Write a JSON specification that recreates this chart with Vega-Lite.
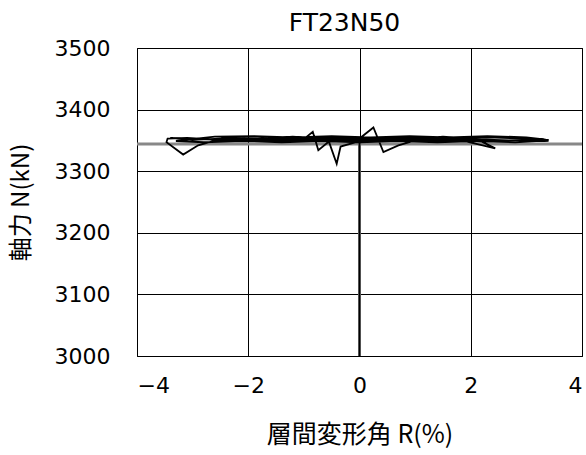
{
  "$schema": "https://vega.github.io/schema/vega-lite/v6.json",
  "width": 445,
  "height": 308,
  "autosize": "none",
  "padding": {"left": 137, "top": 48, "right": 4, "bottom": 99},
  "background": "white",
  "title": {"text": "FT23N50", "font": "DejaVu Sans", "fontSize": 25, "fontWeight": "normal", "color": "black", "offset": 1, "anchor": "middle", "dx": -15},
  "config": {
    "view": {"stroke": "black", "strokeWidth": 1},
    "axis": {
      "domain": false, "ticks": false, "tickSize": 0,
      "grid": true, "gridColor": "black", "gridWidth": 1, "gridOpacity": 1,
      "labelFont": "DejaVu Sans", "labelFontSize": 22, "labelColor": "black",
      "titleFont": "Noto Sans CJK JP", "titleFontSize": 24, "titleFontWeight": "normal", "titleColor": "black"
    }
  },
  "data": {"values": [
    {"s": "ref", "g": "h", "i": 1, "x": -4, "y": 3344},
    {"s": "ref", "g": "h", "i": 2, "x": 4, "y": 3344},
    {"s": "ref", "g": "v", "i": 1, "x": 0, "y": 3000},
    {"s": "ref", "g": "v", "i": 2, "x": 0, "y": 3344},
    {"s": "test", "g": "a", "i": 1, "x": 0, "y": 3000},
    {"s": "test", "g": "a", "i": 2, "x": 0, "y": 3346},
    {"s": "test", "g": "a", "i": 3, "x": 0.25, "y": 3352},
    {"s": "test", "g": "a", "i": 4, "x": 0.5, "y": 3350},
    {"s": "test", "g": "a", "i": 5, "x": 0.25, "y": 3348},
    {"s": "test", "g": "a", "i": 6, "x": 0, "y": 3350},
    {"s": "test", "g": "a", "i": 7, "x": -0.25, "y": 3352},
    {"s": "test", "g": "a", "i": 8, "x": -0.5, "y": 3349},
    {"s": "test", "g": "a", "i": 9, "x": -0.25, "y": 3351},
    {"s": "test", "g": "a", "i": 10, "x": 0, "y": 3353},
    {"s": "test", "g": "a", "i": 11, "x": 0.25, "y": 3371},
    {"s": "test", "g": "a", "i": 12, "x": 0.43, "y": 3331},
    {"s": "test", "g": "a", "i": 13, "x": 0.7, "y": 3342},
    {"s": "test", "g": "a", "i": 14, "x": 1.0, "y": 3350},
    {"s": "test", "g": "a", "i": 15, "x": 0.7, "y": 3354},
    {"s": "test", "g": "a", "i": 16, "x": 0.4, "y": 3352},
    {"s": "test", "g": "a", "i": 17, "x": 0, "y": 3349},
    {"s": "test", "g": "a", "i": 18, "x": -0.34, "y": 3340},
    {"s": "test", "g": "a", "i": 19, "x": -0.41, "y": 3312},
    {"s": "test", "g": "a", "i": 20, "x": -0.55, "y": 3348},
    {"s": "test", "g": "a", "i": 21, "x": -0.74, "y": 3334},
    {"s": "test", "g": "a", "i": 22, "x": -0.84, "y": 3364},
    {"s": "test", "g": "a", "i": 23, "x": -1.0, "y": 3352},
    {"s": "test", "g": "a", "i": 24, "x": -0.7, "y": 3354},
    {"s": "test", "g": "a", "i": 25, "x": -0.3, "y": 3352},
    {"s": "test", "g": "a", "i": 26, "x": 0, "y": 3351},
    {"s": "test", "g": "a", "i": 27, "x": 0.5, "y": 3354},
    {"s": "test", "g": "a", "i": 28, "x": 1.0, "y": 3352},
    {"s": "test", "g": "a", "i": 29, "x": 1.5, "y": 3356},
    {"s": "test", "g": "a", "i": 30, "x": 2.0, "y": 3353},
    {"s": "test", "g": "a", "i": 31, "x": 1.5, "y": 3350},
    {"s": "test", "g": "a", "i": 32, "x": 1.0, "y": 3352},
    {"s": "test", "g": "a", "i": 33, "x": 0.5, "y": 3349},
    {"s": "test", "g": "a", "i": 34, "x": 0, "y": 3352},
    {"s": "test", "g": "a", "i": 35, "x": -0.5, "y": 3355},
    {"s": "test", "g": "a", "i": 36, "x": -1.0, "y": 3351},
    {"s": "test", "g": "a", "i": 37, "x": -1.5, "y": 3355},
    {"s": "test", "g": "a", "i": 38, "x": -2.0, "y": 3352},
    {"s": "test", "g": "a", "i": 39, "x": -1.5, "y": 3349},
    {"s": "test", "g": "a", "i": 40, "x": -1.0, "y": 3351},
    {"s": "test", "g": "a", "i": 41, "x": -0.5, "y": 3353},
    {"s": "test", "g": "a", "i": 42, "x": 0, "y": 3350},
    {"s": "test", "g": "a", "i": 43, "x": 0.6, "y": 3352},
    {"s": "test", "g": "a", "i": 44, "x": 1.2, "y": 3355},
    {"s": "test", "g": "a", "i": 45, "x": 1.8, "y": 3351},
    {"s": "test", "g": "a", "i": 46, "x": 2.44, "y": 3337},
    {"s": "test", "g": "a", "i": 47, "x": 2.2, "y": 3348},
    {"s": "test", "g": "a", "i": 48, "x": 1.6, "y": 3351},
    {"s": "test", "g": "a", "i": 49, "x": 1.0, "y": 3349},
    {"s": "test", "g": "a", "i": 50, "x": 0.4, "y": 3352},
    {"s": "test", "g": "a", "i": 51, "x": 0, "y": 3354},
    {"s": "test", "g": "a", "i": 52, "x": -0.6, "y": 3352},
    {"s": "test", "g": "a", "i": 53, "x": -1.2, "y": 3356},
    {"s": "test", "g": "a", "i": 54, "x": -1.8, "y": 3352},
    {"s": "test", "g": "a", "i": 55, "x": -2.4, "y": 3355},
    {"s": "test", "g": "a", "i": 56, "x": -2.9, "y": 3342},
    {"s": "test", "g": "a", "i": 57, "x": -3.17, "y": 3327},
    {"s": "test", "g": "a", "i": 58, "x": -3.47, "y": 3347},
    {"s": "test", "g": "a", "i": 59, "x": -3.45, "y": 3353},
    {"s": "test", "g": "a", "i": 60, "x": -3.1, "y": 3354},
    {"s": "test", "g": "a", "i": 61, "x": -2.5, "y": 3351},
    {"s": "test", "g": "a", "i": 62, "x": -2.0, "y": 3354},
    {"s": "test", "g": "a", "i": 63, "x": -1.4, "y": 3352},
    {"s": "test", "g": "a", "i": 64, "x": -0.8, "y": 3354},
    {"s": "test", "g": "a", "i": 65, "x": 0, "y": 3351},
    {"s": "test", "g": "a", "i": 66, "x": 0.8, "y": 3354},
    {"s": "test", "g": "a", "i": 67, "x": 1.6, "y": 3352},
    {"s": "test", "g": "a", "i": 68, "x": 2.3, "y": 3355},
    {"s": "test", "g": "a", "i": 69, "x": 2.92, "y": 3353},
    {"s": "test", "g": "a", "i": 70, "x": 3.4, "y": 3349},
    {"s": "test", "g": "a", "i": 71, "x": 3.0, "y": 3351},
    {"s": "test", "g": "a", "i": 72, "x": 2.4, "y": 3349},
    {"s": "test", "g": "a", "i": 73, "x": 1.7, "y": 3352},
    {"s": "test", "g": "a", "i": 74, "x": 1.0, "y": 3350},
    {"s": "test", "g": "a", "i": 75, "x": 0.3, "y": 3353},
    {"s": "test", "g": "a", "i": 76, "x": -0.4, "y": 3351},
    {"s": "test", "g": "a", "i": 77, "x": -1.1, "y": 3353},
    {"s": "test", "g": "a", "i": 78, "x": -1.8, "y": 3350},
    {"s": "test", "g": "a", "i": 79, "x": -2.5, "y": 3353},
    {"s": "test", "g": "a", "i": 80, "x": -3.0, "y": 3351},
    {"s": "test", "g": "a", "i": 81, "x": -3.4, "y": 3354},
    {"s": "test", "g": "a", "i": 82, "x": -2.9, "y": 3352},
    {"s": "test", "g": "a", "i": 83, "x": -2.2, "y": 3350},
    {"s": "test", "g": "a", "i": 84, "x": -1.5, "y": 3353},
    {"s": "test", "g": "a", "i": 85, "x": -0.8, "y": 3351},
    {"s": "test", "g": "a", "i": 86, "x": -0.2, "y": 3349},
    {"s": "test", "g": "a", "i": 87, "x": 0.5, "y": 3352},
    {"s": "test", "g": "a", "i": 88, "x": 1.2, "y": 3350},
    {"s": "test", "g": "a", "i": 89, "x": 2.0, "y": 3352},
    {"s": "test", "g": "a", "i": 90, "x": 2.7, "y": 3350},
    {"s": "test", "g": "a", "i": 91, "x": 3.3, "y": 3352},
    {"s": "test", "g": "a", "i": 92, "x": 3.4, "y": 3350},
    {"s": "test", "g": "a", "i": 93, "x": 2.8, "y": 3347},
    {"s": "test", "g": "a", "i": 94, "x": 2.1, "y": 3349},
    {"s": "test", "g": "a", "i": 95, "x": 1.4, "y": 3347},
    {"s": "test", "g": "a", "i": 96, "x": 0.7, "y": 3349},
    {"s": "test", "g": "a", "i": 97, "x": 0, "y": 3347},
    {"s": "test", "g": "a", "i": 98, "x": -0.7, "y": 3349},
    {"s": "test", "g": "a", "i": 99, "x": -1.4, "y": 3347},
    {"s": "test", "g": "a", "i": 100, "x": -2.1, "y": 3349},
    {"s": "test", "g": "a", "i": 101, "x": -2.8, "y": 3347},
    {"s": "test", "g": "a", "i": 102, "x": -3.3, "y": 3349},
    {"s": "test", "g": "a", "i": 103, "x": -2.6, "y": 3356},
    {"s": "test", "g": "a", "i": 104, "x": -1.9, "y": 3357},
    {"s": "test", "g": "a", "i": 105, "x": -1.2, "y": 3355},
    {"s": "test", "g": "a", "i": 106, "x": -0.5, "y": 3357},
    {"s": "test", "g": "a", "i": 107, "x": 0.2, "y": 3355},
    {"s": "test", "g": "a", "i": 108, "x": 0.9, "y": 3357},
    {"s": "test", "g": "a", "i": 109, "x": 1.6, "y": 3355},
    {"s": "test", "g": "a", "i": 110, "x": 2.3, "y": 3357},
    {"s": "test", "g": "a", "i": 111, "x": 3.0, "y": 3355},
    {"s": "test", "g": "a", "i": 112, "x": 3.4, "y": 3351}
  ]},
  "encoding": {
    "x": {"field": "x", "type": "quantitative", "scale": {"domain": [-4, 4], "nice": false, "zero": false},
          "axis": {"values": [-4, -2, 0, 2, 4], "title": "層間変形角 R(%)", "labelPadding": 19, "titlePadding": 26, "titleFontSize": 25}},
    "y": {"field": "y", "type": "quantitative", "scale": {"domain": [3000, 3500], "nice": false, "zero": false},
          "axis": {"values": [3000, 3100, 3200, 3300, 3400, 3500], "format": "d", "title": "軸力 N(kN)", "labelPadding": 27, "titlePadding": 21}},
    "detail": {"field": "g"},
    "order": {"field": "i", "type": "quantitative"}
  },
  "layer": [
    {"transform": [{"filter": "datum.s === 'ref'"}], "mark": {"type": "line", "color": "#888888", "strokeWidth": 3}},
    {"transform": [{"filter": "datum.s === 'test'"}], "mark": {"type": "line", "color": "black", "strokeWidth": 1.8}}
  ]
}
